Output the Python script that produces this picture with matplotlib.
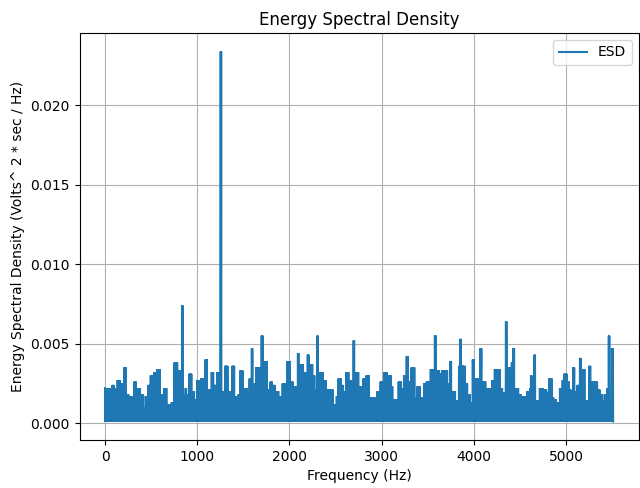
import numpy as np
import matplotlib
matplotlib.use("Agg")
import matplotlib.pyplot as plt

# Upper envelope of the ESD: segment start (Hz) and top value
seg_start_hz = [
    0, 65, 76, 98, 134, 163, 185, 210, 228, 257, 264, 315, 337, 380, 417, 442,
    471, 496, 533, 569, 598, 627, 645, 670, 721, 750, 786, 801, 836, 846, 872,
    880, 916, 938, 967, 1003, 1039, 1068, 1090, 1106, 1155, 1177, 1213, 1242,
    1252, 1262, 1300, 1329, 1358, 1380, 1402, 1423, 1445, 1467, 1496, 1539,
    1568, 1590, 1602, 1641, 1677, 1699, 1710, 1757, 1793,
    1815, 1844, 1880, 1924, 1974, 2003, 2040, 2061, 2090, 2102, 2148, 2177,
    2199, 2212, 2250, 2271, 2300, 2310, 2337, 2366, 2395, 2474, 2511, 2532,
    2561, 2583, 2612, 2641, 2670, 2694, 2706, 2750,
    2779, 2801, 2822, 2837, 2866, 2953, 2989, 3025, 3062, 3098, 3120, 3185,
    3214, 3243, 3272, 3286, 3322, 3359, 3388, 3417, 3460, 3489, 3533, 3578,
    3590, 3627, 3656,
    3685, 3714, 3743, 3756, 3801, 3837, 3852, 3864, 3902, 3931, 3960, 3989,
    4003, 4069, 4082, 4127, 4149, 4199, 4228, 4279, 4308, 4346, 4358, 4410,
    4424, 4438, 4482, 4511, 4576, 4612,
    4620, 4627, 4656, 4668, 4714, 4750, 4787, 4816, 4845, 4866, 4895, 4932,
    4961, 4982, 5011, 5033, 5055, 5076, 5090, 5120, 5149, 5162, 5200, 5250,
    5264, 5337, 5366, 5395, 5424, 5446, 5462, 5474, 5496,
]
seg_top = [
    0.0022, 0.0010, 0.0024, 0.0022, 0.0027, 0.0025, 0.0016, 0.0035, 0.0018,
    0.0014, 0.0017, 0.0026, 0.0022, 0.0018, 0.0010, 0.0017, 0.0024, 0.0030,
    0.0032, 0.0034, 0.0018, 0.0014, 0.0022, 0.0012, 0.0013, 0.0038, 0.0024,
    0.0033, 0.0074, 0.0018, 0.0022,
    0.0018, 0.0031, 0.0020, 0.0015, 0.0027, 0.0028, 0.0019, 0.0040, 0.0021,
    0.0032, 0.0024, 0.0032, 0.0024, 0.0234, 0.0020, 0.0036, 0.0020, 0.0017,
    0.0036, 0.0017, 0.0012, 0.0018, 0.0033, 0.0022, 0.0016, 0.0028, 0.0047,
    0.0025, 0.0035, 0.0019, 0.0055, 0.0039, 0.0021, 0.0026,
    0.0024, 0.0020, 0.0017, 0.0025, 0.0039, 0.0026, 0.0018, 0.0023, 0.0044,
    0.0037, 0.0032, 0.0020, 0.0043, 0.0037, 0.0030, 0.0021, 0.0055, 0.0022,
    0.0032, 0.0027, 0.0021, 0.0012, 0.0017, 0.0028, 0.0024, 0.0020, 0.0032,
    0.0027, 0.0020, 0.0052, 0.0032, 0.0023,
    0.0015, 0.0028, 0.0020, 0.0030, 0.0016, 0.0020, 0.0026, 0.0032, 0.0030,
    0.0023, 0.0015, 0.0026, 0.0022, 0.0030, 0.0042, 0.0026, 0.0035, 0.0016,
    0.0023, 0.0016, 0.0025, 0.0026, 0.0034, 0.0055, 0.0033, 0.0031, 0.0033,
    0.0033, 0.0025, 0.0039, 0.0020, 0.0014, 0.0036, 0.0053, 0.0036, 0.0025,
    0.0018, 0.0013, 0.0040, 0.0028, 0.0047, 0.0026, 0.0017, 0.0022, 0.0027,
    0.0034, 0.0022, 0.0019, 0.0064, 0.0035, 0.0038, 0.0047, 0.0022, 0.0018,
    0.0017, 0.0020, 0.0022,
    0.0030, 0.0017, 0.0043, 0.0014, 0.0022, 0.0021, 0.0019, 0.0028, 0.0016,
    0.0015, 0.0013, 0.0022, 0.0027, 0.0031, 0.0026, 0.0021, 0.0016, 0.0035,
    0.0020, 0.0024, 0.0041, 0.0034, 0.0014, 0.0036, 0.0026, 0.0021, 0.0018,
    0.0014, 0.0018, 0.0022, 0.0055, 0.0012, 0.0047,
]
f_max_hz = 5512
noise_floor = 0.0001

# Dense spectrum: inside each segment the trace swings between floor and envelope
freqs, vals = [], []
ends = seg_start_hz[1:] + [f_max_hz]
k = 0
for s, e, top in zip(seg_start_hz, ends, seg_top):
    for f in np.arange(s, e, 2.5):
        freqs.append(f)
        vals.append(top if k % 2 == 0 else noise_floor)
        k += 1
freqs = np.array(freqs)
vals = np.array(vals)

fig = plt.figure(figsize=(6.4, 4.88), dpi=100)
ax = fig.add_axes([0.1244, 0.0984, 0.8733, 0.8340])
ax.plot(freqs, vals, color="#1f77b4", linewidth=1.5, label="ESD",
        solid_joinstyle="miter")
ax.grid(True)
ax.set_title("Energy Spectral Density", fontsize=12)
ax.set_xlabel("Frequency (Hz)", fontsize=10)
ax.set_ylabel("Energy Spectral Density (Volts^ 2 * sec / Hz)", fontsize=10)
ax.legend(loc="upper right")
fig.savefig("out.png", dpi=100)
